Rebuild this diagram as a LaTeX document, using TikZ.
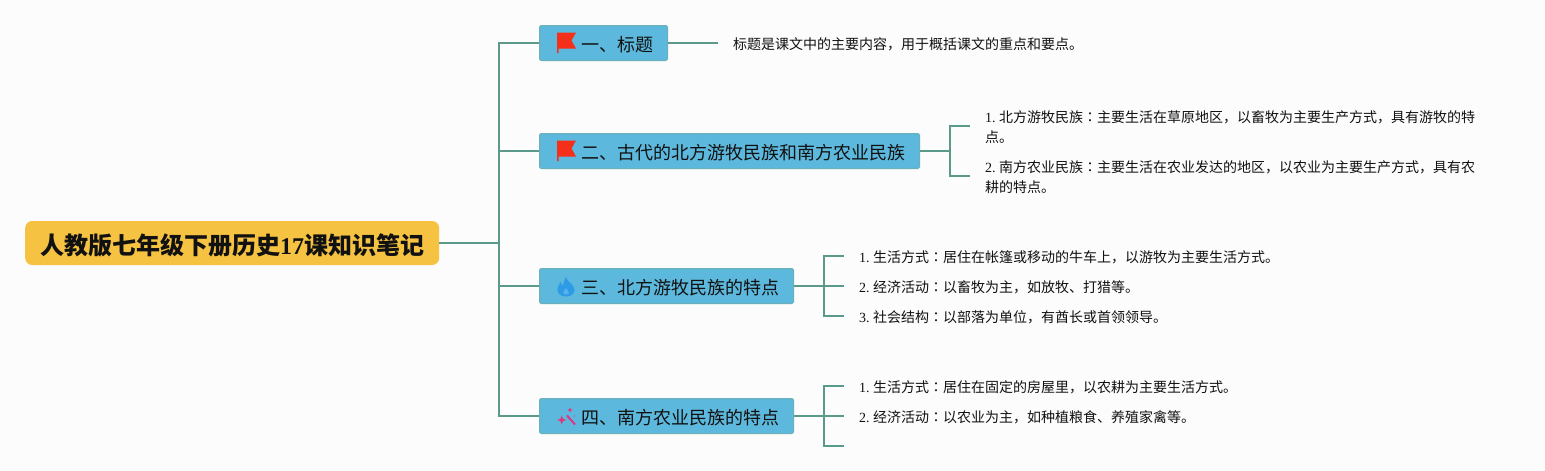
\documentclass[tikz,border=0pt]{standalone}
\usepackage{fontspec}
\setmainfont{Liberation Serif}
\newfontfamily\cjk{Noto Sans CJK SC}
\newfontfamily\cjktc{Noto Sans CJK TC}
\newcommand{\zh}[1]{{\cjk #1}}
\newcommand{\cl}{{\cjktc ：}}
\newcommand{\nm}[1]{#1\hspace{3.5pt}}
\newcommand{\boxtext}[1]{\hspace*{41.5pt}\zh{#1}\hspace*{14.5pt}}
\definecolor{bgc}{HTML}{FCFCFC}
\definecolor{linkc}{HTML}{5B9A8B}
\definecolor{rootc}{HTML}{F5C242}
\definecolor{boxc}{HTML}{5CB8DC}
\definecolor{boxb}{HTML}{6CB0B8}
\definecolor{flagc}{HTML}{F5301A}
\definecolor{firec}{HTML}{2E9BE6}
\definecolor{firei}{HTML}{58B0EA}
\definecolor{wandc}{HTML}{E0357F}
\definecolor{inkc}{HTML}{111111}
\tikzset{
  rootnode/.style={fill=rootc,rounded corners=7pt,inner sep=0pt,minimum height=44pt,minimum width=414pt,
    font=\fontsize{24}{26}\selectfont\bfseries,text=inkc,anchor=west,text height=22pt,text depth=0pt},
  branchnode/.style={fill=boxc,draw=boxb,line width=1pt,rounded corners=1.5pt,inner sep=0pt,minimum height=35pt,
    font=\fontsize{18}{20}\selectfont,text=inkc,anchor=west,text height=17pt,text depth=0pt},
  leafnode/.style={inner ysep=0pt,inner xsep=15pt,anchor=west,align=left,
    font=\fontsize{14}{20}\selectfont,text=inkc},
  link/.style={draw=linkc,line width=2pt},
}
\begin{document}
\begin{tikzpicture}[x=1pt,y=-1pt]
\useasboundingbox (0,0) rectangle (1545,471);
\fill[bgc] (0,0) rectangle (1545,471);

\node[rootnode] (root) at (25,243) {\zh{人教版七年级下册历史}17\zh{课知识笔记}};

\node[branchnode] (b1) at (539,43) {\boxtext{一、标题}};
\node[branchnode] (b2) at (539,151) {\boxtext{二、古代的北方游牧民族和南方农业民族}};
\node[branchnode] (b3) at (539,286) {\boxtext{三、北方游牧民族的特点}};
\node[branchnode] (b4) at (539,416) {\boxtext{四、南方农业民族的特点}};

\node[leafnode] (l11) at (718,44.5) {\zh{标题是课文中的主要内容，用于概括课文的重点和要点。}};
\node[leafnode] (l21) at (970,127.5) {\nm{1.}\zh{北方游牧民族}\cl\zh{主要生活在草原地区，以畜牧为主要生产方式，具有游牧的特}\\\zh{点。}};
\node[leafnode] (l22) at (970,177.5) {\nm{2.}\zh{南方农业民族}\cl\zh{主要生活在农业发达的地区，以农业为主要生产方式，具有农}\\\zh{耕的特点。}};
\node[leafnode] (l31) at (844,257.5) {\nm{1.}\zh{生活方式}\cl\zh{居住在帐篷或移动的牛车上，以游牧为主要生活方式。}};
\node[leafnode] (l32) at (844,287.5) {\nm{2.}\zh{经济活动}\cl\zh{以畜牧为主，如放牧、打猎等。}};
\node[leafnode] (l33) at (844,317.5) {\nm{3.}\zh{社会结构}\cl\zh{以部落为单位，有酋长或首领领导。}};
\node[leafnode] (l41) at (844,387.5) {\nm{1.}\zh{生活方式}\cl\zh{居住在固定的房屋里，以农耕为主要生活方式。}};
\node[leafnode] (l42) at (844,417.5) {\nm{2.}\zh{经济活动}\cl\zh{以农业为主，如种植粮食、养殖家禽等。}};
\coordinate (l43) at (844,446);

\coordinate (t0) at (499,243);
\coordinate (t2) at (950,151);
\coordinate (t3) at (824,286);
\coordinate (t4) at (824,416);

\draw[link] (root.east) -- (t0);
\draw[link] (t0) |- (b1.west);
\draw[link] (t0) |- (b2.west);
\draw[link] (t0) |- (b3.west);
\draw[link] (t0) |- (b4.west);

\draw[link] (b1.east) -- ([yshift=1.5pt]l11.west);

\draw[link] (b2.east) -- (t2);
\draw[link] (t2) |- ([yshift=1.5pt]l21.west);
\draw[link] (t2) |- ([yshift=1.5pt]l22.west);

\draw[link] (b3.east) -- (t3);
\draw[link] (t3) |- ([yshift=1.5pt]l31.west);
\draw[link] (t3) -- ([yshift=1.5pt]l32.west);
\draw[link] (t3) |- ([yshift=1.5pt]l33.west);

\draw[link] (b4.east) -- (t4);
\draw[link] (t4) |- ([yshift=1.5pt]l41.west);
\draw[link] (t4) -- ([yshift=1.5pt]l42.west);
\draw[link] (t4) |- (l43);

% flag icons
\foreach \dy in {0,108}{
  \begin{scope}[yshift=-\dy pt]
  \fill[flagc] (557,32.5) -- (576,32.5) -- (571.5,40.5) -- (576,48.5) -- (558.5,48.5) -- (558.5,53) -- (557,53) -- cycle;
  \end{scope}
}
% flame icon
\fill[firec] (566,277) .. controls (567,282) and (574.5,284) .. (574.5,290)
  .. controls (574.5,294) and (570.5,296.5) .. (566,296.5)
  .. controls (561.5,296.5) and (557.5,294) .. (557.5,290)
  .. controls (557.5,286) and (559.5,284) .. (560.5,282)
  .. controls (561.5,284) and (562,285) .. (563,285.5)
  .. controls (563.5,283) and (564.5,280) .. (566,277) -- cycle;
\fill[firei] (566,288) .. controls (567,290) and (569,291) .. (568.8,293)
  .. controls (568.5,295) and (563.5,295) .. (563.2,293)
  .. controls (563,291) and (565,290) .. (566,288) -- cycle;
% wand icon
\draw[wandc,line width=2pt] (567,415.5) -- (575,424.5);
\fill[wandc] (561.7,415.5) -- (562.9,418.8) -- (566.2,420) -- (562.9,421.2) -- (561.7,424.5) -- (560.5,421.2) -- (557.2,420) -- (560.5,418.8) -- cycle;
\fill[wandc] (570,407.5) -- (570.8,409.2) -- (572.5,410) -- (570.8,410.8) -- (570,412.5) -- (569.2,410.8) -- (567.5,410) -- (569.2,409.2) -- cycle;
\fill[wandc] (574.5,416) circle (.7pt);
\end{tikzpicture}
\end{document}
